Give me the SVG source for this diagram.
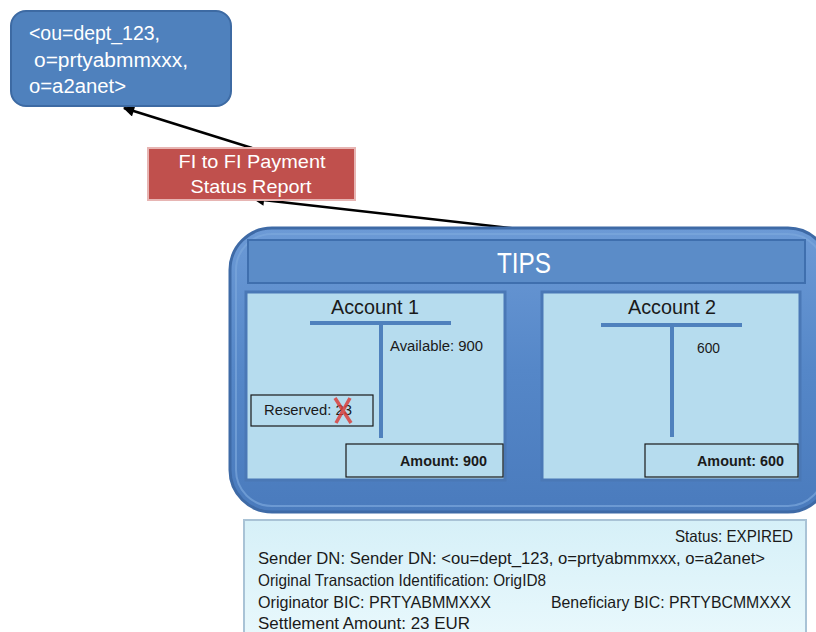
<svg xmlns="http://www.w3.org/2000/svg" width="816" height="632" viewBox="0 0 816 632">
<defs>
<style>
text{font-family:"Liberation Sans",Arial,sans-serif}
.w{fill:#ffffff}
.d{fill:#1a1a1a}
.panel{fill:#b6dcee;stroke:#4a78b6;stroke-width:3}
.tl{stroke:#4f81bd;stroke-width:4;fill:none}
.bx{fill:none;stroke:#1a1a1a;stroke-width:1.2}
.con{stroke:#000;stroke-width:2.5;fill:none;marker-end:url(#ah)}
.i{font-size:16.5px}
</style>
<marker id="ah" viewBox="0 0 10 10" refX="9" refY="5" markerWidth="5" markerHeight="4.5" orient="auto" markerUnits="strokeWidth">
<path d="M0,0 L10,5 L0,10 z" fill="#000"/>
</marker>
<linearGradient id="tipsg" x1="0" y1="0" x2="0" y2="1">
<stop offset="0" stop-color="#6c9ad6"/>
<stop offset="0.5" stop-color="#5587c8"/>
<stop offset="1" stop-color="#4a7bbd"/>
</linearGradient>
<linearGradient id="infog" x1="0" y1="0" x2="0" y2="1">
<stop offset="0" stop-color="#d6f0f8"/>
<stop offset="1" stop-color="#e8f8fc"/>
</linearGradient>
</defs>

<g id="connectors">
<line class="con" x1="252" y1="148" x2="124" y2="108"/>
<line class="con" x1="527" y1="230" x2="254" y2="199"/>
</g>

<g id="dn-node">
<rect x="11" y="11" width="220" height="95" rx="15" fill="#4f81bd" stroke="#3d6aa3" stroke-width="2"/>
<text class="w" x="29" y="40" font-size="19.5" textLength="131" lengthAdjust="spacingAndGlyphs">&lt;ou=dept_123,</text>
<text class="w" x="34" y="67" font-size="19.5" textLength="154" lengthAdjust="spacingAndGlyphs">o=prtyabmmxxx,</text>
<text class="w" x="29" y="93" font-size="19.5" textLength="97" lengthAdjust="spacingAndGlyphs">o=a2anet&gt;</text>
</g>

<g id="status-report">
<rect x="148" y="148" width="207" height="52" fill="#c0504d" stroke="#e7b5b3" stroke-width="2"/>
<text class="w" x="252" y="168" font-size="19" text-anchor="middle" textLength="147" lengthAdjust="spacingAndGlyphs">FI to FI Payment</text>
<text class="w" x="251" y="193" font-size="19" text-anchor="middle" textLength="121" lengthAdjust="spacingAndGlyphs">Status Report</text>
</g>

<g id="tips">
<rect x="230" y="228" width="600" height="284" rx="42" fill="url(#tipsg)" stroke="#3e6aa6" stroke-width="3"/>
<rect x="236" y="234" width="588" height="272" rx="36" fill="none" stroke="#7aa6dc" stroke-width="2" opacity="0.7"/>
<rect x="248" y="240" width="557" height="43" fill="#5b8cc8" stroke="#3f6fae" stroke-width="2"/>
<text class="w" x="524" y="273" font-size="30" text-anchor="middle" textLength="54" lengthAdjust="spacingAndGlyphs">TIPS</text>
</g>

<g id="account1">
<rect class="panel" x="246" y="292" width="259" height="188"/>
<text class="d" x="375" y="314" font-size="20" text-anchor="middle" textLength="88" lengthAdjust="spacingAndGlyphs">Account 1</text>
<line class="tl" x1="310" y1="323" x2="451" y2="323"/>
<line class="tl" x1="381" y1="323" x2="381" y2="438"/>
<text class="d" x="390" y="351" font-size="14" textLength="93" lengthAdjust="spacingAndGlyphs">Available: 900</text>
<rect class="bx" x="251" y="395" width="122" height="31"/>
<text class="d" x="264" y="415" font-size="14" textLength="88" lengthAdjust="spacingAndGlyphs">Reserved: 23</text>
<path d="M335,398 L351,423 M350,398 L336,423" stroke="#d9403b" stroke-width="3.5" fill="none" opacity="0.85"/>
<rect class="bx" x="346" y="444" width="157" height="33"/>
<text class="d" x="487" y="466" font-size="14" font-weight="bold" text-anchor="end" textLength="87" lengthAdjust="spacingAndGlyphs">Amount: 900</text>
</g>

<g id="account2">
<rect class="panel" x="542" y="292" width="258" height="188"/>
<text class="d" x="672" y="314" font-size="20" text-anchor="middle" textLength="88" lengthAdjust="spacingAndGlyphs">Account 2</text>
<line class="tl" x1="601" y1="325" x2="742" y2="325"/>
<line class="tl" x1="672" y1="325" x2="672" y2="437"/>
<text class="d" x="697" y="353" font-size="14" textLength="23" lengthAdjust="spacingAndGlyphs">600</text>
<rect class="bx" x="645" y="444" width="153" height="33"/>
<text class="d" x="784" y="466" font-size="14" font-weight="bold" text-anchor="end" textLength="87" lengthAdjust="spacingAndGlyphs">Amount: 600</text>
</g>

<g id="info">
<rect x="244" y="520" width="562" height="116" fill="url(#infog)" stroke="#a9c3d6" stroke-width="2"/>
<text class="d i" x="793" y="542" text-anchor="end" textLength="118" lengthAdjust="spacingAndGlyphs">Status: EXPIRED</text>
<text class="d i" x="258" y="564" textLength="507" lengthAdjust="spacingAndGlyphs">Sender DN: Sender DN: &lt;ou=dept_123, o=prtyabmmxxx, o=a2anet&gt;</text>
<text class="d i" x="258" y="586" textLength="288" lengthAdjust="spacingAndGlyphs">Original Transaction Identification: OrigID8</text>
<text class="d i" x="258" y="608" textLength="233" lengthAdjust="spacingAndGlyphs">Originator BIC: PRTYABMMXXX</text>
<text class="d i" x="791" y="608" text-anchor="end" textLength="240" lengthAdjust="spacingAndGlyphs">Beneficiary BIC: PRTYBCMMXXX</text>
<text class="d i" x="258" y="629" textLength="212" lengthAdjust="spacingAndGlyphs">Settlement Amount: 23 EUR</text>
</g>
</svg>
